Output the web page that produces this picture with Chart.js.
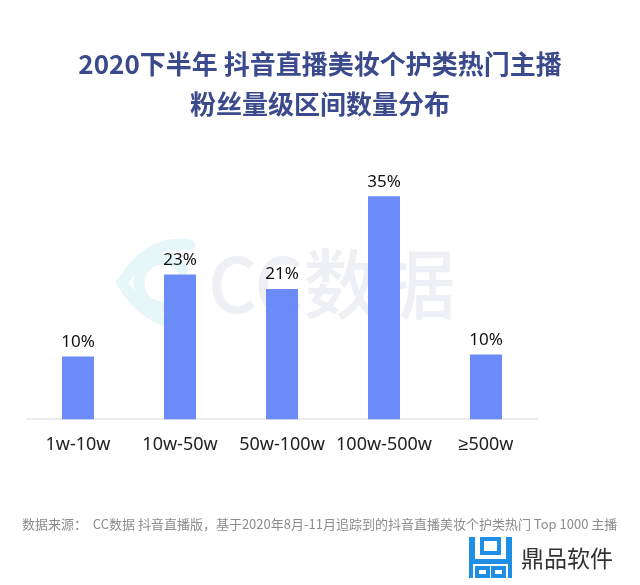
<!DOCTYPE html>
<html>
<head>
<meta charset="utf-8">
<script src="https://cdn.jsdelivr.net/npm/chart.js@4/dist/chart.umd.min.js"></script>
<style>
  html, body { margin: 0; padding: 0; background: #fff; }
  #wrap { width: 640px; height: 585px; position: relative; }
</style>
</head>
<body>
<div id="wrap"><canvas id="chart"></canvas></div>
<script>
const categories = ['1w-10w', '10w-50w', '50w-100w', '100w-500w', '≥500w'];
const shares = [9.9, 22.8, 20.5, 35.1, 10.2];
const titleLines = ['2020下半年 抖音直播美妆个护类热门主播', '粉丝量级区间数量分布'];
const sourceNote = '数据来源：  CC数据 抖音直播版，基于2020年8月-11月追踪到的抖音直播美妆个护类热门 Top 1000 主播';
const brandName = '鼎品软件';

const cjk = '"Noto Sans CJK SC", "Noto Sans", sans-serif';

const heading = {
  id: 'heading',
  afterDraw(chart) {
    const ctx = chart.ctx;
    ctx.save();
    ctx.fillStyle = '#3a4a8c';
    ctx.font = 'bold 26px ' + cjk;
    ctx.textAlign = 'center';
    ctx.textBaseline = 'middle';
    titleLines.forEach((line, i) => {
      ctx.fillText(line, 320, 64 + i * 40);
    });
    ctx.restore();
  }
};

const watermark = {
  id: 'watermark',
  beforeDatasetsDraw(chart) {
    const ctx = chart.ctx;
    ctx.save();
    ctx.strokeStyle = '#e7f6f8';
    ctx.lineWidth = 11;
    ctx.lineCap = 'round';
    ctx.beginPath();
    ctx.arc(163, 283, 24, 0.6, Math.PI * 2 - 0.6);
    ctx.stroke();
    ctx.beginPath();
    ctx.moveTo(190, 245);
    ctx.quadraticCurveTo(150, 238, 122, 283);
    ctx.quadraticCurveTo(150, 328, 190, 321);
    ctx.stroke();
    ctx.fillStyle = '#eef0f6';
    ctx.font = '500 76px ' + cjk;
    ctx.textBaseline = 'middle';
    ctx.textAlign = 'left';
    ctx.fillText('CC数据', 208, 284);
    ctx.restore();
  }
};

const barLabels = {
  id: 'barLabels',
  afterDatasetsDraw(chart) {
    const ctx = chart.ctx;
    ctx.save();
    ctx.fillStyle = '#111';
    ctx.font = '17px "Noto Sans", sans-serif';
    ctx.textAlign = 'center';
    ctx.textBaseline = 'bottom';
    chart.getDatasetMeta(0).data.forEach((bar, i) => {
      ctx.fillText(Math.round(shares[i]) + '%', bar.x, bar.y - 6);
    });
    ctx.restore();
  }
};

const footer = {
  id: 'footer',
  afterDraw(chart) {
    const ctx = chart.ctx;
    ctx.save();
    ctx.fillStyle = '#8c8c8c';
    ctx.font = '13px ' + cjk;
    ctx.textBaseline = 'middle';
    ctx.textAlign = 'left';
    ctx.fillText(sourceNote, 22, 524);

    ctx.fillStyle = '#1f8fe6';
    ctx.strokeStyle = '#1f8fe6';
    ctx.fillRect(469, 537, 6, 27);
    ctx.fillRect(506, 537, 6, 27);
    ctx.fillRect(469, 559, 43, 5);
    ctx.lineWidth = 4;
    ctx.strokeRect(482, 539, 17, 14);
    ctx.strokeRect(477, 568, 11, 8);
    ctx.strokeRect(493, 568, 11, 8);
    ctx.fillRect(469, 564, 4, 14);
    ctx.fillRect(508, 564, 4, 14);

    ctx.fillStyle = '#333';
    ctx.font = '23px ' + cjk;
    ctx.fillText(brandName, 521, 558);
    ctx.restore();
  }
};

new Chart(document.getElementById('chart'), {
  type: 'bar',
  data: {
    labels: categories,
    datasets: [{
      data: shares,
      backgroundColor: '#6a8bf8',
      borderWidth: 0,
      categoryPercentage: 1,
      barPercentage: 0.314
    }]
  },
  options: {
    responsive: true,
    maintainAspectRatio: false,
    animation: false,
    layout: {
      padding: { left: 27, right: 103, top: 165, bottom: 114 }
    },
    plugins: {
      legend: { display: false },
      tooltip: { enabled: false },
      title: { display: false }
    },
    scales: {
      x: {
        grid: { display: false, drawTicks: false },
        border: { color: '#ececec', width: 2 },
        ticks: {
          color: '#222',
          padding: 15,
          font: { family: '"Noto Sans", sans-serif', size: 18 }
        }
      },
      y: {
        display: false,
        min: 0,
        max: 40
      }
    }
  },
  plugins: [watermark, barLabels, footer, heading]
});
</script>
</body>
</html>
